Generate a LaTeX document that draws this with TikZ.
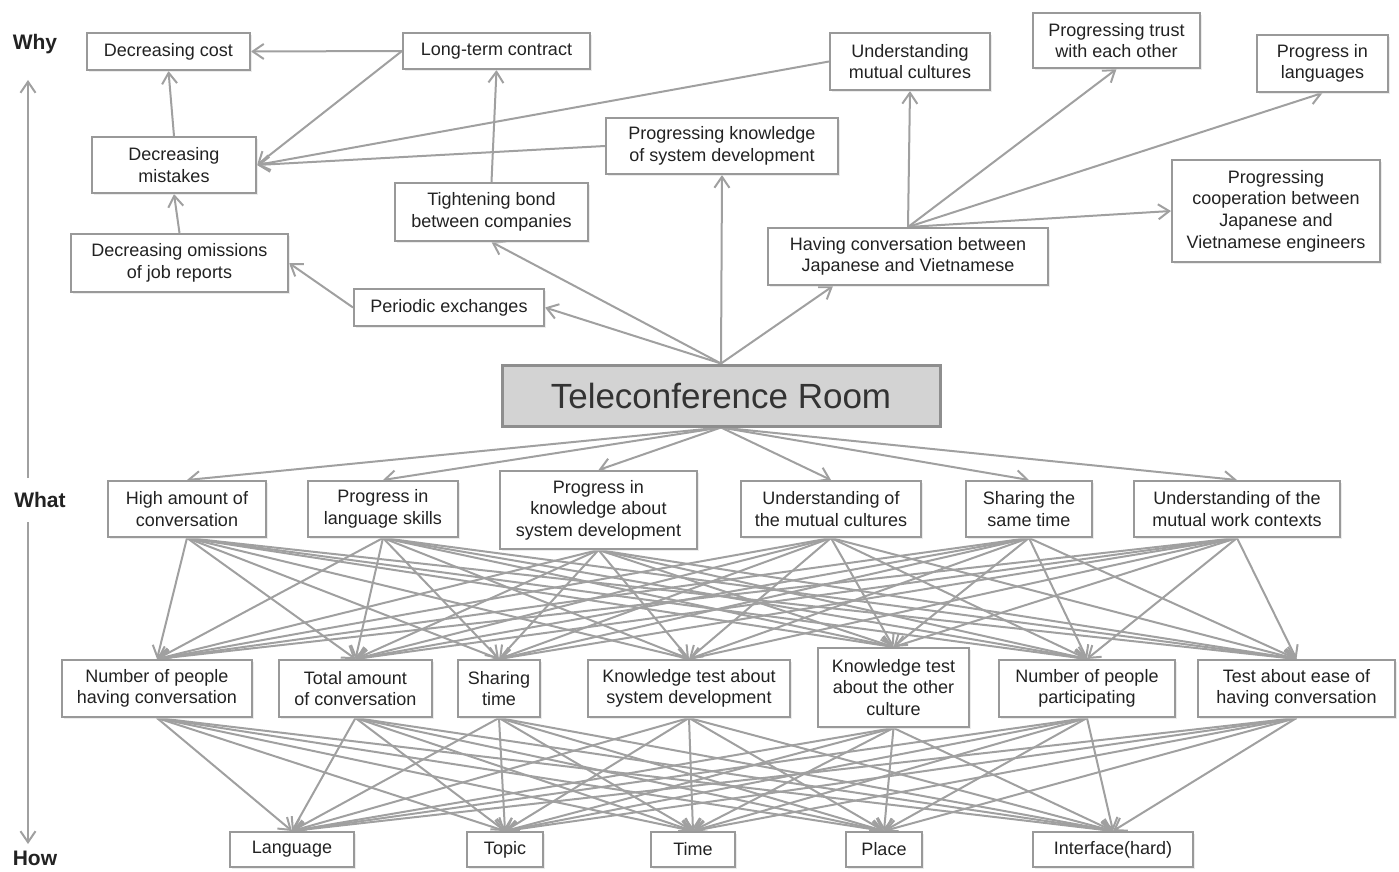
\documentclass[tikz,border=0pt]{standalone}
\usepackage{fontspec}
\setmainfont{Liberation Sans}
\usetikzlibrary{arrows.meta,backgrounds,shadows}
\definecolor{edgegray}{HTML}{A0A0A0}
\definecolor{framegray}{HTML}{999999}
\definecolor{inkgray}{HTML}{222222}
\definecolor{roomfill}{HTML}{D3D3D3}
\definecolor{roomframe}{HTML}{8E8E8E}
\begin{document}
\begin{tikzpicture}[x=0.5pt,y=-0.5pt,
  box/.style={draw=framegray, line width=1pt, fill=white, align=center,
    inner sep=0pt, text=inkgray, font=\fontsize{9}{10.8}\selectfont,
    drop shadow={shadow xshift=0.8pt, shadow yshift=-0.8pt, fill=black!15}},
  sz/.style 2 args={minimum width=#1pt, minimum height=#2pt},
  link/.style={draw=edgegray, line width=1pt,
    -{Straight Barb[length=5.5pt,width=7.5pt,line width=1pt]}},
  axislabel/.style={text=inkgray, font=\fontsize{10.5}{13}\selectfont\bfseries}
]
\useasboundingbox (0,0) rectangle (1399,872);

% ---- level labels and the vertical axis
\node[axislabel] (why)  at (35,44)  {Why};
\node[axislabel] (what) at (40,500) {What};
\node[axislabel] (how)  at (35,858) {How};
\coordinate (axtop) at (28,80);
\coordinate (axup)  at (28,478);
\coordinate (axdn)  at (28,522);
\coordinate (axbot) at (28,844);

% ---- why level
\node[box, sz={81.5}{18.5}] (dc) at (168.5,51.5) {Decreasing cost};
\node[box, sz={93.5}{18}]   (lt) at (496.5,51)   {Long-term contract};
\node[box, sz={80}{28.5}]   (um) at (910,61.5)   {Understanding\\mutual cultures};
\node[box, sz={83.5}{27.5}] (pt) at (1116.5,40.5) {Progressing trust\\with each other};
\node[box, sz={65.5}{28.5}] (pl) at (1322.5,63.5) {Progress in\\languages};
\node[box, sz={82}{28}]     (dm) at (174,165)    {Decreasing\\mistakes};
\node[box, sz={116}{28}]    (pk) at (722,146)    {Progressing knowledge\\of system development};
\node[box, sz={96.5}{29}]   (tb) at (491.5,212)  {Tightening bond\\between companies};
\node[box, sz={140}{28.5}]  (hc) at (908,256.5)  {Having conversation between\\Japanese and Vietnamese};
\node[box, sz={104}{51}]    (pc) at (1276,211)   {Progressing\\cooperation between\\Japanese and\\Vietnamese engineers};
\node[box, sz={108.5}{29}]  (do) at (179.5,263)  {Decreasing omissions\\of job reports};
\node[box, sz={95}{18.5}]   (pe) at (449,307.5)  {Periodic exchanges};

% ---- central node
\node[box, sz={219}{30.5}, fill=roomfill, draw=roomframe, line width=1.5pt,
      text=black!80, font=\fontsize{17.5}{20}\selectfont] (tr) at (721,395.5) {Teleconference Room};

% ---- what level
\node[box, sz={79}{28}]   (w1) at (187,509)   {High amount of\\conversation};
\node[box, sz={75}{28}]   (w2) at (383,509)   {Progress in\\language skills};
\node[box, sz={98.5}{39}] (w3) at (598.5,510) {Progress in\\knowledge about\\system development};
\node[box, sz={90}{28}]   (w4) at (831,509)   {Understanding of\\the mutual cultures};
\node[box, sz={63}{28}]   (w5) at (1029,509)  {Sharing the\\same time};
\node[box, sz={103}{28}]  (w6) at (1237,509)  {Understanding of the\\mutual work contexts};

% ---- measures
\node[box, sz={95}{28.5}]   (m1) at (157,688.5)  {Number of people\\having conversation};
\node[box, sz={76.5}{28.5}] (m2) at (355.5,688.5) {Total amount\\of conversation};
\node[box, sz={41}{28.5}]   (m3) at (499,688.5)  {Sharing\\time};
\node[box, sz={101}{28.5}]  (m4) at (689,688.5)  {Knowledge test about\\system development};
\node[box, sz={75.5}{39.5}] (m5) at (893.5,687.5) {Knowledge test\\about the other\\culture};
\node[box, sz={88}{28.5}]   (m6) at (1087,688.5) {Number of people\\participating};
\node[box, sz={98.5}{28.5}] (m7) at (1296.5,688.5) {Test about ease of\\having conversation};

% ---- how level
\node[box, sz={62}{17.5}] (h1) at (292,849.5)  {Language};
\node[box, sz={38}{17.5}] (h2) at (505,849.5)  {Topic};
\node[box, sz={42}{17.5}] (h3) at (693,849.5)  {Time};
\node[box, sz={38}{17.5}] (h4) at (884,849.5)  {Place};
\node[box, sz={80}{17.5}] (h5) at (1113,849.5) {Interface(hard)};

\begin{scope}[on background layer]
  % axis
  \draw[link] (axup) -- (axtop);
  \draw[link] (axdn) -- (axbot);

  % why level
  \draw[link] (lt.west) -- (dc.east);
  \draw[link] (lt.west) -- (dm.east);
  \draw[link] (um.west) -- (dm.east);
  \draw[link] (pk.west) -- (dm.east);
  \draw[link] (dm.north) -- (dc.south);
  \draw[link] (do.north) -- (dm.south);
  \draw[link] (pe.west) -- (do.east);
  \draw[link] (tb.north) -- (lt.south);
  \draw[link] (tr.north) -- (pe.east);
  \draw[link] (tr.north) -- (tb.south);
  \draw[link] (tr.north) -- (pk.south);
  \draw[link] (tr.north) -- ([xshift=-37.5pt]hc.south);
  \draw[link] (hc.north) -- (um.south);
  \draw[link] (hc.north) -- (pt.south);
  \draw[link] (hc.north) -- (pl.south);
  \draw[link] (hc.north) -- (pc.west);

  % what level
  \foreach \i in {1,...,6} \draw[link] (tr.south) -- (w\i.north);

  % what -> measures
  \foreach \i in {1,...,6}
    \foreach \j in {1,...,7}
      \draw[link] (w\i.south) -- (m\j.north);

  % measures -> how
  \foreach \j in {1,...,7}
    \foreach \k in {1,...,5}
      \draw[link] (m\j.south) -- (h\k.north);
\end{scope}
\end{tikzpicture}
\end{document}
